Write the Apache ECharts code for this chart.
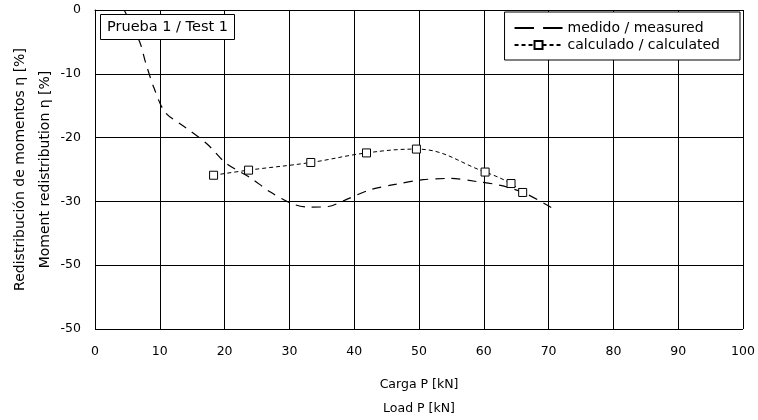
<!DOCTYPE html>
<html>
<head>
<meta charset="utf-8">
<script src="https://cdn.jsdelivr.net/npm/echarts@6/dist/echarts.min.js"></script>
<style>html,body{margin:0;padding:0;background:#fff}#c{width:758px;height:420px}</style>
</head>
<body>
<div id="c"></div>
<script>
// Data
const measuredX = [4.5, 6.9, 7.8, 9.1, 10.8, 13.8, 17.3, 20.2, 24.0, 27.0, 30.5, 33.0, 36.0, 39.0, 42.4, 46.5, 50.6, 54.7, 59.0, 62.6, 66.5, 70.5];
const measuredY = [0, -5, -8.2, -12.2, -16, -18.3, -21, -24, -26.3, -28.5, -30.4, -30.9, -30.8, -29.6, -28.2, -27.3, -26.6, -26.4, -26.9, -27.5, -28.8, -31];
const calcX = [18.3, 23.7, 33.3, 41.9, 49.6, 60.2, 64.2, 66.0];
const calcY = [-25.9, -25.1, -23.9, -22.4, -21.8, -25.4, -27.2, -28.6];
const xTickLabels = ['0','10','20','30','40','50','60','70','80','90','100'];
const yTickLabels = ['0','-10','-20','-30','-50','-50'];
const seriesNames = ['medido / measured', 'calculado / calculated'];
const titleText = 'Prueba 1 / Test 1';
const xName = 'Carga P [kN]\nLoad P [kN]';
const yName = 'Redistribución de momentos η [%]\nMoment redistribution η [%]';

const pair = (xs, ys) => xs.map((x, i) => [x, ys[i]]);
const FONT = 'DejaVu Sans';
const chart = echarts.init(document.getElementById('c'), null, {renderer: 'canvas'});
chart.setOption({
  animation: false,
  backgroundColor: '#fff',
  textStyle: {fontFamily: FONT, color: '#000'},
  title: {
    text: titleText,
    left: 100, top: 14,
    padding: [6, 7, 5, 7],
    borderColor: '#000', borderWidth: 1, backgroundColor: '#fff',
    textStyle: {fontFamily: FONT, fontSize: 14.5, fontWeight: 'normal', color: '#000'}
  },
  legend: {
    orient: 'vertical',
    right: 18, top: 12,
    padding: [9, 20, 8, 9],
    itemGap: 3,
    itemWidth: 48, itemHeight: 10,
    borderColor: '#000', borderWidth: 1, backgroundColor: '#fff',
    textStyle: {fontFamily: FONT, fontSize: 14, color: '#000'},
    data: [
      {name: seriesNames[0], icon: 'path://M0,4h15v1.4h-15z M22,4h15v1.4h-15z', itemStyle: {color: '#000', borderWidth: 0}},
      {name: seriesNames[1]}
    ]
  },
  grid: {left: 95, right: 15, top: 10, bottom: 91, outerBoundsMode: 'none', containLabel: false},
  xAxis: {
    type: 'value', min: 0, max: 100, interval: 10,
    name: xName, nameLocation: 'middle', nameGap: 44,
    nameTextStyle: {fontFamily: FONT, fontSize: 12.5, color: '#000', lineHeight: 24},
    axisLine: {show: true, lineStyle: {color: '#000', width: 1}},
    axisTick: {show: false},
    axisLabel: {fontFamily: FONT, fontSize: 12.5, color: '#000', margin: 16,
      formatter: v => xTickLabels[Math.round(v / 10)]},
    splitLine: {show: true, lineStyle: {color: '#000', width: 1}}
  },
  yAxis: {
    type: 'value', min: -50, max: 0, interval: 10,
    name: yName, nameLocation: 'middle', nameGap: 37, nameRotate: 90,
    nameMoveOverlap: false,
    nameTextStyle: {fontFamily: FONT, fontSize: 14, color: '#000', lineHeight: 25},
    axisLine: {show: true, lineStyle: {color: '#000', width: 1}},
    axisTick: {show: false},
    axisLabel: {fontFamily: FONT, fontSize: 12.5, color: '#000', margin: 14,
      formatter: v => yTickLabels[Math.round(-v / 10)]},
    splitLine: {show: true, lineStyle: {color: '#000', width: 1}}
  },
  series: [
    {
      name: seriesNames[0], type: 'line', data: pair(measuredX, measuredY),
      smooth: 0.3, symbol: 'none',
      lineStyle: {color: '#000', width: 1.2, type: [9, 7]},
      itemStyle: {color: '#000'}, z: 3
    },
    {
      name: seriesNames[1], type: 'line', data: pair(calcX, calcY),
      smooth: 0.4, symbol: 'rect', symbolSize: 8,
      lineStyle: {color: '#000', width: 1, type: [4, 3]},
      itemStyle: {color: '#fff', borderColor: '#000', borderWidth: 1}, z: 4
    }
  ]
});
</script>
</body>
</html>
